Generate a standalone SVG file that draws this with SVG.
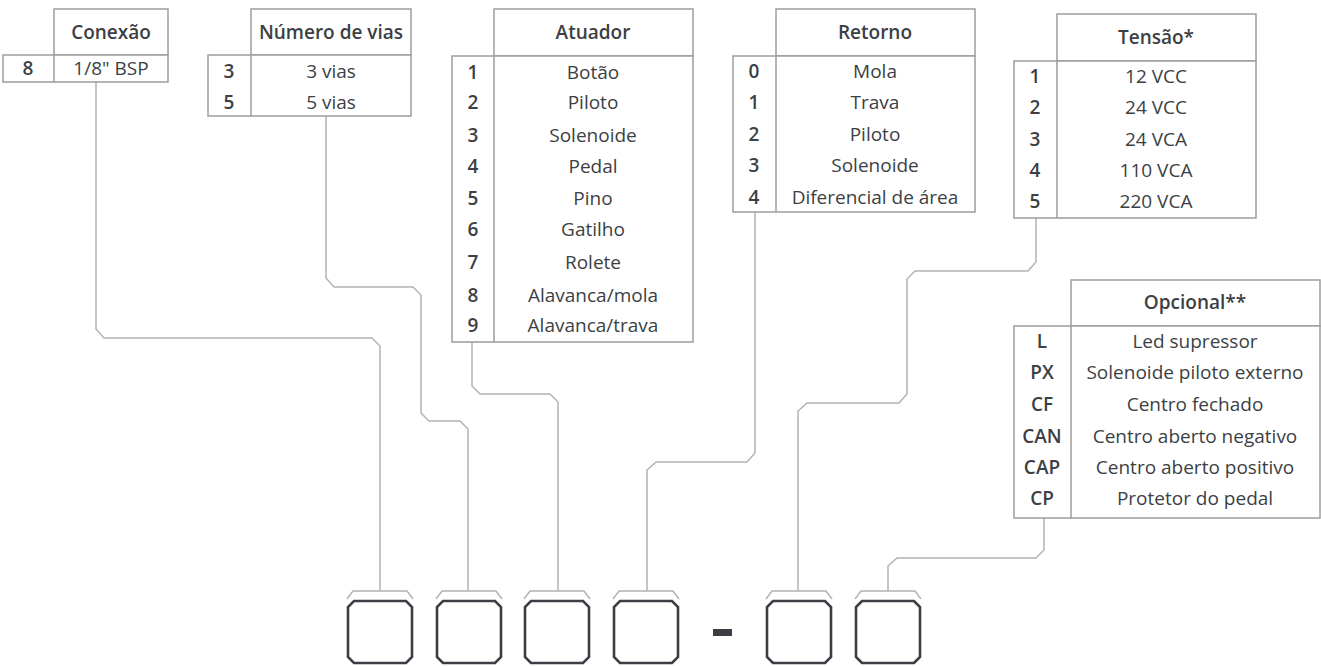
<svg xmlns="http://www.w3.org/2000/svg" width="1321" height="666" viewBox="0 0 1321 666">
<style>
.b{fill:#fff;stroke:#9d9d9d;stroke-width:1.5}
.d{stroke:#9d9d9d;stroke-width:1.5}
.t{font-family:"Open Sans","Liberation Sans",sans-serif;font-size:19px;fill:#3c3f44;text-anchor:middle}
.h{font-weight:600}
.c{fill:none;stroke:#b3b3b3;stroke-width:1.5}
.k{fill:#fff;stroke:#3b3e43;stroke-width:2.6}
.r{fill:none;stroke:#b3b3b3;stroke-width:1.5}
</style>
<defs>
<path id="box" d="M6,10 L58,10 L64,16 L64,66 L58,72 L6,72 L0,66 L0,16 Z" class="k"/>
<path id="br" d="M-1,8 L5,0 L59,0 L65,8" class="r"/>
</defs>
<rect width="1321" height="666" fill="#fff"/>

<g id="connectors">
<path class="c" d="M96,82 V329 L104,338 H372 L380,346 V591"/>
<path class="c" d="M326,116 V278 L334,287 H413 L421,295 V413 L429,421 H460 L468,429 V591"/>
<path class="c" d="M472,342 V386 L480,394 H550 L558,402 V591"/>
<path class="c" d="M755,212 V453 L747,462 H656 L647,470 V591"/>
<path class="c" d="M1036,218 V262 L1028,271 H915 L907,279 V394 L899,403 H807 L798,411 V591"/>
<path class="c" d="M1044,518 V550 L1036,558 H897 L888,566 V591"/>
</g>

<g id="conexao">
<rect class="b" x="54" y="9" width="114" height="46"/>
<rect class="b" x="3" y="55" width="165" height="27"/>
<line class="d" x1="54" y1="55" x2="54" y2="82"/>
<text class="t h" x="111" y="39">Conexão</text>
<text class="t h" x="28" y="75">8</text>
<text class="t" x="111" y="75">1/8" BSP</text>
</g>

<g id="numero-de-vias">
<rect class="b" x="251" y="9" width="160" height="46"/>
<rect class="b" x="208" y="55" width="203" height="61"/>
<line class="d" x1="251" y1="55" x2="251" y2="116"/>
<text class="t h" x="331" y="39">Número de vias</text>
<text class="t h" x="229" y="78">3</text>
<text class="t" x="331" y="78">3 vias</text>
<text class="t h" x="229" y="109">5</text>
<text class="t" x="331" y="109">5 vias</text>
</g>

<g id="atuador">
<rect class="b" x="494" y="9" width="199" height="47"/>
<rect class="b" x="452" y="56" width="241" height="286"/>
<line class="d" x1="494" y1="56" x2="494" y2="342"/>
<text class="t h" x="593" y="39">Atuador</text>
<g class="t">
<text class="h" x="473" y="79">1</text><text x="593" y="79">Botão</text>
<text class="h" x="473" y="109">2</text><text x="593" y="109">Piloto</text>
<text class="h" x="473" y="142">3</text><text x="593" y="142">Solenoide</text>
<text class="h" x="473" y="173">4</text><text x="593" y="173">Pedal</text>
<text class="h" x="473" y="205">5</text><text x="593" y="205">Pino</text>
<text class="h" x="473" y="236">6</text><text x="593" y="236">Gatilho</text>
<text class="h" x="473" y="269">7</text><text x="593" y="269">Rolete</text>
<text class="h" x="473" y="302">8</text><text x="593" y="302">Alavanca/mola</text>
<text class="h" x="473" y="332">9</text><text x="593" y="332">Alavanca/trava</text>
</g>
</g>

<g id="retorno">
<rect class="b" x="776" y="9" width="199" height="47"/>
<rect class="b" x="733" y="56" width="242" height="156"/>
<line class="d" x1="776" y1="56" x2="776" y2="212"/>
<text class="t h" x="875" y="39">Retorno</text>
<g class="t">
<text class="h" x="754" y="78">0</text><text x="875" y="78">Mola</text>
<text class="h" x="754" y="109">1</text><text x="875" y="109">Trava</text>
<text class="h" x="754" y="141">2</text><text x="875" y="141">Piloto</text>
<text class="h" x="754" y="172">3</text><text x="875" y="172">Solenoide</text>
<text class="h" x="754" y="204">4</text><text x="875" y="204">Diferencial de área</text>
</g>
</g>

<g id="tensao">
<rect class="b" x="1057" y="14" width="199" height="47"/>
<rect class="b" x="1014" y="61" width="242" height="157"/>
<line class="d" x1="1057" y1="61" x2="1057" y2="218"/>
<text class="t h" x="1156" y="44">Tensão*</text>
<g class="t">
<text class="h" x="1035" y="83">1</text><text x="1156" y="83">12 VCC</text>
<text class="h" x="1035" y="114">2</text><text x="1156" y="114">24 VCC</text>
<text class="h" x="1035" y="146">3</text><text x="1156" y="146">24 VCA</text>
<text class="h" x="1035" y="177">4</text><text x="1156" y="177">110 VCA</text>
<text class="h" x="1035" y="208">5</text><text x="1156" y="208">220 VCA</text>
</g>
</g>

<g id="opcional">
<rect class="b" x="1071" y="280" width="249" height="46"/>
<rect class="b" x="1014" y="326" width="306" height="192"/>
<line class="d" x1="1071" y1="326" x2="1071" y2="518"/>
<text class="t h" x="1195" y="309">Opcional**</text>
<g class="t">
<text class="h" x="1042" y="348">L</text><text x="1195" y="348">Led supressor</text>
<text class="h" x="1042" y="379">PX</text><text x="1195" y="379">Solenoide piloto externo</text>
<text class="h" x="1042" y="411">CF</text><text x="1195" y="411">Centro fechado</text>
<text class="h" x="1042" y="443">CAN</text><text x="1195" y="443">Centro aberto negativo</text>
<text class="h" x="1042" y="474">CAP</text><text x="1195" y="474">Centro aberto positivo</text>
<text class="h" x="1042" y="505">CP</text><text x="1195" y="505">Protetor do pedal</text>
</g>
</g>

<g id="box-1" transform="translate(348,591)"><use href="#br"/><use href="#box"/></g>
<g id="box-2" transform="translate(437,591)"><use href="#br"/><use href="#box"/></g>
<g id="box-3" transform="translate(525,591)"><use href="#br"/><use href="#box"/></g>
<g id="box-4" transform="translate(614,591)"><use href="#br"/><use href="#box"/></g>
<g id="dash"><rect x="713" y="629" width="19" height="7" fill="#3b3e43"/></g>
<g id="box-5" transform="translate(767,591)"><use href="#br"/><use href="#box"/></g>
<g id="box-6" transform="translate(856,591)"><use href="#br"/><use href="#box"/></g>
</svg>
